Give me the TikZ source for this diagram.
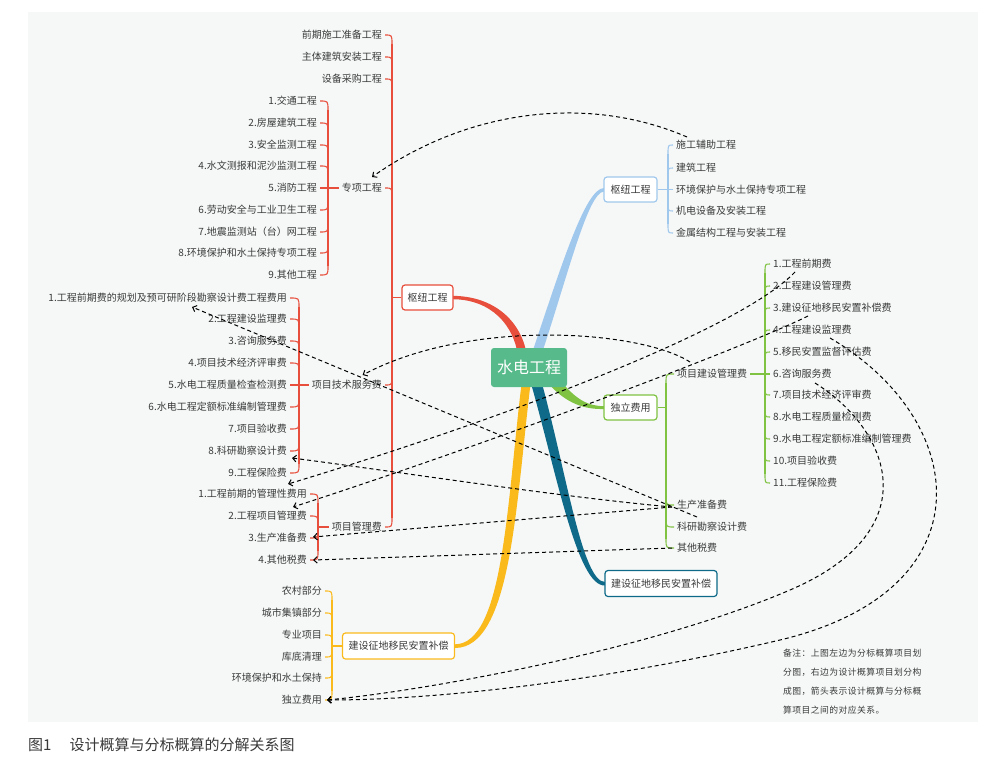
\documentclass[tikz,border=0pt]{standalone}
\usepackage{fontspec}
\setmainfont{Noto Sans CJK SC}
\newfontfamily\notefont[LetterSpace=5]{Noto Sans CJK SC}
\usetikzlibrary{arrows.meta,calc}
\definecolor{bg}{RGB}{246,248,248}
\definecolor{txt}{RGB}{58,58,58}
\definecolor{cred}{RGB}{232,78,60}
\definecolor{cblue}{RGB}{160,200,236}
\definecolor{cgreen}{RGB}{128,194,66}
\definecolor{cteal}{RGB}{14,106,136}
\definecolor{cyel}{RGB}{250,186,28}
\definecolor{croot}{RGB}{86,186,138}
\newcommand\lconn[4]{\draw[sub,#1] ($(#2.east)+(3,0)$) .. controls (#3 |- #2.east) and (#3 |- #2.east) .. ($(#3 |- #2.east)+(0,#4)$);}
\newcommand\rconn[4]{\draw[sub,#1] ($(#2.west)+(-3,0)$) .. controls (#3 |- #2.west) and (#3 |- #2.west) .. ($(#3 |- #2.west)+(0,#4)$);}
\begin{document}
\begin{tikzpicture}[x=1pt,y=-1pt,
  lbl/.style={inner sep=0pt,text=txt,font=\fontsize{10}{12}\selectfont},
  box/.style={draw,rounded corners=3pt,fill=white,line width=1.2pt,inner sep=0pt,minimum height=25pt,text=txt,font=\fontsize{10}{12}\selectfont},
  sub/.style={line width=1.1pt},
  rel/.style={black,line width=1pt,dash pattern=on 4pt off 3pt,-{Straight Barb[length=3.5pt,width=6.5pt]}},
  notel/.style={anchor=west,inner sep=0pt,text=txt,font=\notefont\fontsize{8.8}{12}\selectfont}]
\useasboundingbox (0,0) rectangle (1000,768);
\fill[white] (0,0) rectangle (1000,768);
\fill[bg] (28,12) rectangle (978,722);
% trunk x positions
\coordinate (TA) at (392,0);
\coordinate (TB) at (328,0);
\coordinate (TC) at (299,0);
\coordinate (TD) at (318,0);
\coordinate (TE) at (332,0);
\coordinate (TF) at (668,0);
\coordinate (TG) at (666,0);
\coordinate (TH) at (765,0);
% main tapered branches
\fill[cred] (452,295.8) .. controls (495,296) and (522,322) .. (527,356) -- (518,356) .. controls (514,326) and (492,299.2) .. (452,299.2) -- cycle;
\fill[cblue] (531,356) .. controls (560,270) and (585,188) .. (604,188) -- (604,191.5) .. controls (588,192) and (568,275) .. (541,356) -- cycle;
\fill[cgreen] (557,376) .. controls (575,400) and (588,406) .. (604,406.2) -- (604,409) .. controls (585,409.5) and (566,404) .. (547,382) -- cycle;
\fill[cteal] (541,380) .. controls (566,470) and (582,582) .. (605,582) -- (605,585.5) .. controls (577,587) and (556,470) .. (530,380) -- cycle;
\fill[cyel] (531,380) .. controls (516,500) and (512,648) .. (455,648) -- (455,644.3) .. controls (504,644) and (507,500) .. (522,380) -- cycle;
% boxes
\node[fill=croot,rounded corners=3pt,minimum width=76pt,minimum height=39pt,inner sep=0pt,text=white,font=\fontsize{16}{18}\selectfont] (R) at (529,367.5) {水电工程};
\node[box,draw=cred,minimum width=51pt] (BL1) at (427.5,297.5) {枢纽工程};
\node[box,draw=cblue,minimum width=53pt] (BR1) at (630.5,189.5) {枢纽工程};
\node[box,draw=cgreen,minimum width=53pt] (BR2) at (630.5,407.5) {独立费用};
\node[box,draw=cteal,minimum width=112pt,minimum height=26pt] (BR3) at (661,583.5) {建设征地移民安置补偿};
\node[box,draw=cyel,minimum width=112pt,minimum height=26pt] (BL2) at (398.5,646) {建设征地移民安置补偿};
% left red main children
\node[lbl,anchor=east] (a1) at (382,35) {前期施工准备工程};
\node[lbl,anchor=east] (a2) at (382,57) {主体建筑安装工程};
\node[lbl,anchor=east] (a3) at (382,79) {设备采购工程};
\node[lbl,anchor=east] (a4) at (382,188) {专项工程};
\node[lbl,anchor=east] (a5) at (382,385) {项目技术服务费};
\node[lbl,anchor=east] (a6) at (382,527) {项目管理费};
% 专项工程 children
\node[lbl,anchor=east] (b1) at (317,101) {1.交通工程};
\node[lbl,anchor=east] (b2) at (317,123) {2.房屋建筑工程};
\node[lbl,anchor=east] (b3) at (317,145) {3.安全监测工程};
\node[lbl,anchor=east] (b4) at (317,166) {4.水文测报和泥沙监测工程};
\node[lbl,anchor=east] (b5) at (317,188) {5.消防工程};
\node[lbl,anchor=east] (b6) at (317,210) {6.劳动安全与工业卫生工程};
\node[lbl,anchor=east] (b7) at (317,232) {7.地震监测站（台）网工程};
\node[lbl,anchor=east] (b8) at (317,253) {8.环境保护和水土保持专项工程};
\node[lbl,anchor=east] (b9) at (317,275) {9.其他工程};
% 项目技术服务费 children
\node[lbl,anchor=east] (c1) at (287,298) {1.工程前期费的规划及预可研阶段勘察设计费工程费用};
\node[lbl,anchor=east] (c2) at (287,319) {2.工程建设监理费};
\node[lbl,anchor=east] (c3) at (287,341) {3.咨询服务费};
\node[lbl,anchor=east] (c4) at (287,363) {4.项目技术经济评审费};
\node[lbl,anchor=east] (c5) at (287,385) {5.水电工程质量检查检测费};
\node[lbl,anchor=east] (c6) at (287,407) {6.水电工程定额标准编制管理费};
\node[lbl,anchor=east] (c7) at (287,429) {7.项目验收费};
\node[lbl,anchor=east] (c8) at (287,451) {8.科研勘察设计费};
\node[lbl,anchor=east] (c9) at (287,473) {9.工程保险费};
% 项目管理费 children
\node[lbl,anchor=east] (d1) at (307,494) {1.工程前期的管理性费用};
\node[lbl,anchor=east] (d2) at (307,516) {2.工程项目管理费};
\node[lbl,anchor=east] (d3) at (307,538) {3.生产准备费};
\node[lbl,anchor=east] (d4) at (307,560) {4.其他税费};
% yellow children
\node[lbl,anchor=east] (e1) at (322,591) {农村部分};
\node[lbl,anchor=east] (e2) at (322,613) {城市集镇部分};
\node[lbl,anchor=east] (e3) at (322,635) {专业项目};
\node[lbl,anchor=east] (e4) at (322,657) {库底清理};
\node[lbl,anchor=east] (e5) at (322,678) {环境保护和水土保持};
\node[lbl,anchor=east] (e6) at (322,700) {独立费用};
% right blue children
\node[lbl,anchor=west] (f1) at (676,145) {施工辅助工程};
\node[lbl,anchor=west] (f2) at (676,168) {建筑工程};
\node[lbl,anchor=west] (f3) at (676,189.5) {环境保护与水土保持专项工程};
\node[lbl,anchor=west] (f4) at (676,211) {机电设备及安装工程};
\node[lbl,anchor=west] (f5) at (676,233) {金属结构工程与安装工程};
% green children
\node[lbl,anchor=west] (g1) at (677,374) {项目建设管理费};
\node[lbl,anchor=west] (g2) at (677,505) {生产准备费};
\node[lbl,anchor=west] (g3) at (677,527) {科研勘察设计费};
\node[lbl,anchor=west] (g4) at (677,548) {其他税费};
% 项目建设管理费 children
\node[lbl,anchor=west] (h1) at (773,264) {1.工程前期费};
\node[lbl,anchor=west] (h2) at (773,286) {2.工程建设管理费};
\node[lbl,anchor=west] (h3) at (773,308) {3.建设征地移民安置补偿费};
\node[lbl,anchor=west] (h4) at (773,330) {4.工程建设监理费};
\node[lbl,anchor=west] (h5) at (773,352) {5.移民安置监督评估费};
\node[lbl,anchor=west] (h6) at (773,374) {6.咨询服务费};
\node[lbl,anchor=west] (h7) at (773,395) {7.项目技术经济评审费};
\node[lbl,anchor=west] (h8) at (773,417) {8.水电工程质量检测费};
\node[lbl,anchor=west] (h9) at (773,439) {9.水电工程定额标准编制管理费};
\node[lbl,anchor=west] (h10) at (773,461) {10.项目验收费};
\node[lbl,anchor=west] (h11) at (773,483) {11.工程保险费};
% brace connectors: red main
\foreach \n/\s in {a1/9,a2/9,a3/9,a4/9,a5/-9,a6/-9} {\lconn{cred}{\n}{TA}{\s}}
\draw[sub,cred] ($(TA |- a1.east)+(0,9)$) -- ($(TA |- a6.east)+(0,-9)$);
\draw[sub,cred] (BL1.west) -- (TA |- BL1.west);
% 专项工程
\foreach \n/\s in {b1/9,b2/9,b3/9,b4/9,b6/-9,b7/-9,b8/-9,b9/-9} {\lconn{cred}{\n}{TB}{\s}}
\draw[sub,cred] ($(b5.east)+(3,0)$) -- ($(a4.west)+(-3,0)$);
\draw[sub,cred] ($(TB |- b1.east)+(0,9)$) -- ($(TB |- b9.east)+(0,-9)$);
% 项目技术服务费
\foreach \n/\s in {c1/9,c2/9,c3/9,c4/9,c6/-9,c7/-9,c8/-9,c9/-9} {\lconn{cred}{\n}{TC}{\s}}
\draw[sub,cred] ($(c5.east)+(3,0)$) -- ($(a5.west)+(-3,0)$);
\draw[sub,cred] ($(TC |- c1.east)+(0,9)$) -- ($(TC |- c9.east)+(0,-9)$);
% 项目管理费
\foreach \n/\s in {d1/9,d2/9,d3/-9,d4/-9} {\lconn{cred}{\n}{TD}{\s}}
\draw[sub,cred] ($(TD |- d1.east)+(0,9)$) -- ($(TD |- d4.east)+(0,-9)$);
\draw[sub,cred] ($(a6.west)+(-3,0)$) -- (TD |- a6.west);
% yellow
\foreach \n/\s in {e1/9,e2/9,e3/9,e4/-9,e5/-9,e6/-9} {\lconn{cyel}{\n}{TE}{\s}}
\draw[sub,cyel] ($(TE |- e1.east)+(0,9)$) -- ($(TE |- e6.east)+(0,-9)$);
\draw[sub,cyel] (BL2.west) -- (TE |- BL2.west);
% right blue
\foreach \n/\s in {f1/9,f2/9,f4/-9,f5/-9} {\rconn{cblue}{\n}{TF}{\s}}
\draw[sub,cblue] (BR1.east) -- ($(f3.west)+(-3,0)$);
\draw[sub,cblue] ($(TF |- f1.west)+(0,9)$) -- ($(TF |- f5.west)+(0,-9)$);
% green
\foreach \n/\s in {g1/9,g2/-9,g3/-9,g4/-9} {\rconn{cgreen}{\n}{TG}{\s}}
\draw[sub,cgreen] ($(TG |- g1.west)+(0,9)$) -- ($(TG |- g4.west)+(0,-9)$);
\draw[sub,cgreen] (BR2.east) -- (TG |- BR2.east);
\foreach \n/\s in {h1/9,h2/9,h3/9,h4/9,h5/9,h7/-9,h8/-9,h9/-9,h10/-9,h11/-9} {\rconn{cgreen}{\n}{TH}{\s}}
\draw[sub,cgreen] ($(g1.east)+(3,0)$) -- ($(h6.west)+(-3,0)$);
\draw[sub,cgreen] ($(TH |- h1.west)+(0,9)$) -- ($(TH |- h11.west)+(0,-9)$);
% relation arrows
\coordinate (f1s) at ($(f1.west)+(11,-8)$);
\coordinate (a4t) at ($(a4.east)+(-10,-11)$);
\coordinate (g1s) at ($(g1.west)+(13,-12)$);
\coordinate (a5t) at ($(a5.west)+(51,-10)$);
\coordinate (h1s) at ($(h1.west)+(22,8)$);
\coordinate (d1t) at ($(d1.east)+(-19,-10)$);
\coordinate (h4s) at ($(h4.west)+(35,-14)$);
\coordinate (d2t) at ($(d2.east)+(-14,-9)$);
\coordinate (g3s) at ($(g3.west)+(20,-10)$);
\coordinate (c1t) at ($(c1.east)+(-95,9)$);
\coordinate (g2s) at ($(g2.west)+(-5,2)$);
\coordinate (c8t) at ($(c8.east)+(5,7)$);
\coordinate (d3t) at ($(d3.east)+(6,-1)$);
\coordinate (g4s) at ($(g4.west)+(-5,0)$);
\coordinate (d4t) at ($(d4.east)+(6,0)$);
\coordinate (h5s) at ($(h4.west)+(57,8)$);
\coordinate (h6s) at ($(h6.west)+(42,9)$);
\coordinate (e6t) at ($(e6.east)+(5,0)$);
\draw[rel] (f1s) .. controls (590,95) and (470,108) .. (a4t);
\draw[rel] (g1s) .. controls (640,330) and (470,318) .. (a5t);
\draw[rel] (h1s) .. controls (740,330) and (500,420) .. (d1t);
\draw[rel] (h4s) .. controls (750,345) and (500,440) .. (d2t);
\draw[rel] (g3s) -- (c1t);
\draw[rel] (g2s) .. controls (560,497) and (400,472) .. (c8t);
\draw[rel] (g2s) -- (d3t);
\draw[rel] (g4s) -- (d4t);
\draw[rel] (h5s) .. controls (970,420) and (990,590) .. (780,640) .. controls (610,680) and (440,700) .. (e6t);
\draw[rel] (h6s) .. controls (890,430) and (930,530) .. (790,590) .. controls (650,650) and (430,690) .. (e6t);
% note
\node[notel] (n1) at (783,653) {备注：上图左边为分标概算项目划};
\node[notel] (n2) at (783,672) {分图，右边为设计概算项目划分构};
\node[notel] (n3) at (783,691) {成图，箭头表示设计概算与分标概};
\node[notel] (n4) at (783,710) {算项目之间的对应关系。};
% caption
\node[anchor=west,inner sep=0pt,text=txt,font=\fontsize{15}{18}\selectfont] (cap) at (28,745) {图1\hspace{18pt}设计概算与分标概算的分解关系图};
\end{tikzpicture}
\end{document}
